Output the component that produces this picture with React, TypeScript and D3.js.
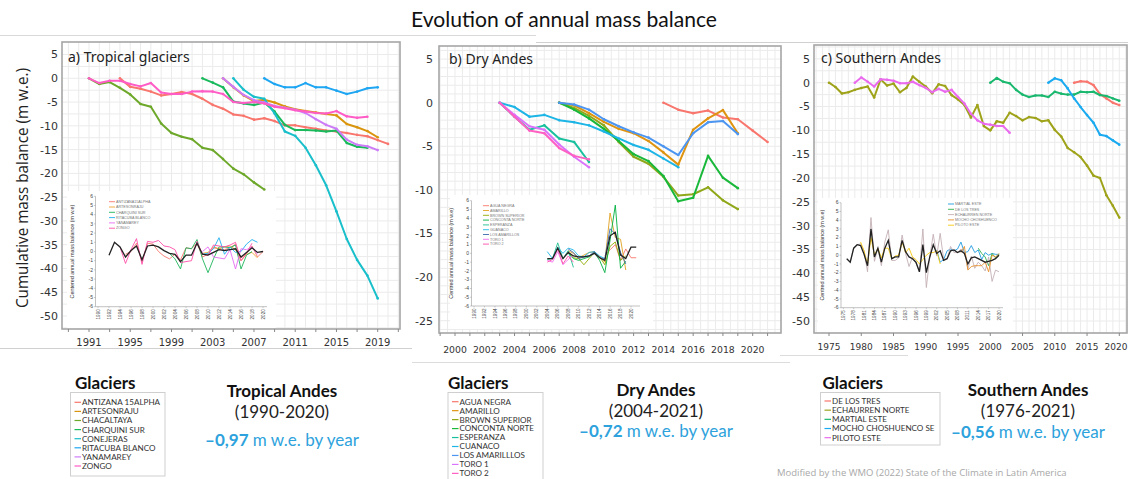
import React from "react";
import * as d3 from "d3";

// ================= DATA =================
// ---- Panel a: Tropical glaciers, cumulative mass balance (m w.e.) ----
const tropNames = ["ANTIZANA 15ALPHA", "ARTESONRAJU", "CHACALTAYA", "CHARQUINI SUR", "CONEJERAS", "RITACUBA BLANCO", "YANAMAREY", "ZONGO"];
const tropColors = ["#F8766D", "#DA950E", "#6DA82A", "#19B95C", "#19BFCA", "#1EA6F2", "#CD7CF8", "#FF5CC6"];
const tropStart = [1994, 2004, 1991, 2002, 2005, 2008, 2004, 1991];
const antizanaCum = [0, -1.8, -2.2, -2.8, -3.6, -3.3, -2.9, -3.3, -4.3, -5.6, -6.4, -7.6, -7.9, -8.7, -8.4, -9.0, -9.9, -9.9, -10.3, -10.6, -11.0, -11.2, -11.5, -11.9, -12.2, -13.0, -13.8];
const artesonrajuCum = [0, -1.9, -3.6, -4.8, -4.5, -5.1, -5.9, -6.5, -6.9, -7.2, -7.5, -7.8, -9.6, -10.3, -11.1, -12.4];
const chacaltayaCum = [0, -1.2, -0.8, -2.0, -3.4, -5.4, -6.0, -9.5, -11.5, -12.3, -12.8, -14.6, -15.1, -17.0, -19.0, -20.2, -21.9, -23.4];
const charquiniCum = [0, -0.9, -1.9, -4.9, -5.3, -5.6, -5.1, -7.0, -9.8, -10.9, -10.9, -11.0, -11.2, -11.0, -13.6, -14.4, -14.6];
const conejerasCum = [0, -2.4, -3.9, -4.3, -7.4, -11.2, -12.1, -14.6, -18.3, -22.5, -28.0, -33.8, -38.2, -41.5, -46.3];
const ritacubaCum = [0, -1.2, -1.9, -1.9, -1.0, -1.9, -1.9, -2.6, -3.3, -2.8, -2.1, -1.9];
const yanamareyCum = [0, -1.8, -3.5, -4.6, -5.1, -5.8, -6.2, -6.6, -7.3, -8.6, -9.8, -10.6, -12.9, -14.0, -14.3, -15.1];
const zongoCum = [0, -1.0, -0.5, -0.5, -1.2, -1.7, -1.0, -3.0, -3.3, -3.3, -2.8, -2.7, -2.8, -3.3, -5.0, -5.2, -5.0, -5.3, -6.0, -6.3, -6.7, -7.0, -7.3, -7.4, -6.9, -8.0, -8.3, -8.1];
const tropCum = [antizanaCum, artesonrajuCum, chacaltayaCum, charquiniCum, conejerasCum, ritacubaCum, yanamareyCum, zongoCum];

// Panel a inset: centered annual mass balance
const tropInsetNames = ["ANTIZANA15ALPHA", "ARTESONRAJU", "CHARQUINI SUR", "RITACUBA BLANCO", "YANAMAREY", "ZONGO"];
const tropInsetColors = ["#F8766D", "#F0A030", "#1DB45A", "#1EB0F0", "#E76BF3", "#FF4FA8"];
const tropInsetStart = [1995, 2009, 2003, 2009, 2009, 1994];
const antizanaAnn = [-0.3, 0.0, 0.9, -1.1, 0.9, 0.8, 0.0, -0.5, -0.8, -0.3, -0.9, 0.4, 0.3, 0.9, -0.6, -0.3, 0.4, 0.3, 0.2, 0.4, 0.8, -0.7, -0.2, 0.6, -0.6, 0.0];
const artesonrajuAnn = [-0.2, -0.1, 0.5, 0.3, 0.5, 0.6, 0.2, -1.0, -0.3, -0.1, -0.7];
const charquiniAnn = [-0.2, -0.8, -1.9, 0.4, 0.3, 1.3, -0.8, -2.3, -0.8, 0.5, 0.5, 0.4, 0.7, -1.9, -0.4, 0.0];
const ritacubaAnn = [-0.3, -0.2, 0.3, 1.5, -0.3, 0.5, -0.1, 0.0, 0.8, 1.3, 1.0];
const yanamareyAnn = [0.0, 0.5, -0.6, -0.7, -0.8, 0.2, -1.9, 0.3, 0.2, 0.5, -0.3];
const zongoAnn = [0.5, -1.3, 0.2, 1.4, -1.4, 1.1, 1.0, 1.2, 0.6, 0.5, 0.2, -1.2, -1.1, -1.0, 1.1, -0.3, -0.4, 0.7, 0.6, 0.5, 0.7, 1.0, -1.0, -0.2, 0.9];
const tropInsetAnn = [antizanaAnn, artesonrajuAnn, charquiniAnn, ritacubaAnn, yanamareyAnn, zongoAnn];
const tropMeanStart = 1992;
const tropMeanAnn = [-0.4, 1.0, 0.5, -0.6, 0.1, 0.6, -0.9, 0.6, 0.7, 0.5, 0.1, -0.2, -0.3, -1.1, -0.4, -0.4, 0.9, -0.3, -0.4, -0.1, 0.2, 0.1, 0.2, 0.3, -0.6, -0.1, 0.4, -0.1, 0.0];

// ---- Panel b: Dry Andes ----
const dryNames = ["AGUA NEGRA", "AMARILLO", "BROWN SUPERIOR", "CONCONTA NORTE", "ESPERANZA", "CUANACO", "LOS AMARILLLOS", "TORO 1", "TORO 2"];
const dryColors = ["#F8766D", "#DE9410", "#8FA81A", "#19B83A", "#19C09E", "#1DB5E6", "#4C95F0", "#DB72FB", "#FF61C3"];
const dryStart = [2014, 2007, 2007, 2007, 2003, 2003, 2007, 2003, 2003];
const aguaNegraCum = [0, -0.8, -1.2, -0.9, -1.7, -1.9, -3.2, -4.5];
const amarilloCum = [0, -0.3, -1.2, -2.2, -3.0, -3.5, -4.4, -5.7, -7.1, -3.1, -1.8, -0.85, -3.5];
const brownCum = [0, -0.6, -1.5, -2.6, -4.5, -6.2, -7.0, -8.5, -10.65, -10.5, -9.7, -11.2, -12.2];
const concontaCum = [0, -0.8, -1.8, -3.0, -4.4, -5.9, -6.7, -8.4, -11.3, -10.9, -6.1, -8.6, -9.8];
const esperanzaCum = [0, -1.6, -3.1, -2.6, -4.1, -4.5, -6.8];
const guanacoCum = [0, -0.5, -1.6, -1.4, -2.0, -2.25, -2.6, -3.3, -4.1, -4.85, -5.4, -6.4, -7.4];
const losAmarillosCum = [0, -0.2, -0.8, -1.9, -2.7, -3.4, -4.0, -5.0, -6.0, -3.5, -2.25, -2.1, -3.6];
const toro1Cum = [0, -1.4, -2.7, -3.1, -4.8, -6.2, -7.4];
const toro2Cum = [0, -1.6, -3.2, -3.5, -5.2, -6.1, -6.5];
const dryCum = [aguaNegraCum, amarilloCum, brownCum, concontaCum, esperanzaCum, guanacoCum, losAmarillosCum, toro1Cum, toro2Cum];

const dryInsetNames = ["AGUA NEGRA", "AMARILLO", "BROWN SUPERIOR", "CONCONTA NORTE", "ESPERANZA", "GUANACO", "LOS AMARILLOS", "TORO 1", "TORO 2"];
const dryInsetColors = ["#F8766D", "#E0A020", "#93AA00", "#00B040", "#20C090", "#20B8E8", "#3C68B0", "#F070F0", "#FF4FA8"];
const dryInsetStart = [2015, 2008, 2008, 2008, 2004, 2004, 2008, 2004, 2004];
const aguaNegraAnn = [-0.3, 0.4, 1.0, -0.8, 0.5, -0.5, -0.5];
const amarilloAnn = [0.3, 0.0, -0.5, -0.2, 0.1, 0.2, -0.4, -1.0, 4.6, 1.8, 1.6, -1.9];
const brownAnn = [0.1, -0.5, -0.6, -1.3, -0.6, 0.1, -0.4, -1.3, 0.8, 1.3, -0.8, -0.3];
const concontaAnn = [0.0, -0.6, -0.8, -0.6, -0.4, 0.1, -0.8, -2.2, 1.5, 5.5, -1.7, -0.9];
const esperanzaAnn = [-0.7, -0.6, 1.2, -0.6, 0.3, -1.6];
const guanacoAnn = [0.2, -0.6, 0.7, 0.0, 0.6, 0.4, -0.3, -0.4, 0.1, 0.2, -0.3, -0.6];
const losAmarillosAnn = [0.5, 0.1, -0.6, -0.4, -0.3, 0.2, -0.5, -0.6, 2.8, 2.2, 0.1, -1.2];
const toro1Ann = [-0.8, -1.0, 0.2, -1.3, -0.7, -0.2];
const toro2Ann = [-1.0, -0.7, 0.5, -1.2, -0.3, -1.0];
const dryInsetAnn = [aguaNegraAnn, amarilloAnn, brownAnn, concontaAnn, esperanzaAnn, guanacoAnn, losAmarillosAnn, toro1Ann, toro2Ann];
const dryMeanStart = 2004;
const dryMeanAnn = [-0.6, -0.6, 0.6, -0.6, 0.1, -0.3, -0.4, -0.4, -0.3, 0.0, -0.5, -0.8, 2.0, 2.4, -0.2, -0.6, 0.7, 0.7];

// ---- Panel c: Southern Andes ----
const southNames = ["DE LOS TRES", "ECHAURREN NORTE", "MARTIAL ESTE", "MOCHO CHOSHUENCO SE", "PILOTO ESTE"];
const southColors = ["#F8766D", "#9FA31A", "#19B86E", "#1AAAF0", "#EA6BEE"];
const southStart = [2013, 1975, 2000, 2009, 1979];
const deLosTresCum = [0, 0.3, 0.2, -0.5, -2.4, -3.3, -4.2, -4.7];
const echaurrenCum = [0, -0.9, -2.25, -2.0, -1.5, -1.1, -0.8, -3.1, 0.7, -0.6, -0.2, -2.0, -1.1, 1.3, 0.2, -0.8, -2.2, -0.35, -0.7, -2.6, -3.5, -4.7, -7.3, -4.7, -9.1, -10.0, -8.1, -8.4, -6.3, -7.0, -7.9, -7.2, -7.4, -8.1, -7.9, -9.9, -11.3, -13.7, -14.6, -15.6, -17.4, -19.5, -20.0, -23.6, -25.8, -28.3];
const martialCum = [0, 1.0, 0.2, -0.1, -1.5, -2.5, -3.0, -2.7, -2.7, -3.0, -1.9, -2.3, -2.5, -2.5, -1.9, -2.0, -1.9, -2.6, -2.8, -3.3, -3.8];
const mochoCum = [0, 0.9, 0.5, -1.2, -3.3, -5.1, -6.8, -8.4, -10.9, -11.2, -12.1, -13.0];
const pilotoCum = [0, 1.1, 0.2, -0.8, 0.7, 0.6, 0.4, -0.1, -0.1, 0.2, -0.5, -1.1, -2.0, -1.3, -1.9, -1.5, -3.0, -4.4, -6.5, -7.9, -8.6, -8.8, -9.1, -9.1, -10.5];
const southCum = [deLosTresCum, echaurrenCum, martialCum, mochoCum, pilotoCum];

const southInsetNames = ["MARTIAL ESTE", "DE LOS TRES", "ECHAURREN NORTE", "MOCHO CHOSHUENCO", "PILOTO ESTE"];
const southInsetColors = ["#1E9BE0", "#2DB04B", "#C4B0B4", "#E8902A", "#F6C90E"];
const southInsetStart = [2002, 2014, 1976, 2009, 1980];
const martialAnn = [0.6, -0.8, -0.5, 0.5, 0.7, 0.5, 0.7, 1.5, 0.3, 0.4, 1.1, 0.3, 0.6, -0.5, 0.3, 0.0, 0.2, 0.1, 0.1];
const deLosTresAnn = [0.8, 0.2, -0.2, -1.2, 0.2, -0.3, 0.1];
const echaurrenAnn = [-0.4, -0.8, 0.8, 1.2, 1.3, 0.5, -1.9, 4.3, -0.7, 0.8, -1.2, 1.5, 2.9, -0.6, -0.6, -0.3, 2.3, 0.2, -1.3, -0.2, -0.9, -1.9, 3.0, -3.7, -0.2, 2.4, -0.1, 2.5, -0.5, -0.4, 1.0, 0.3, 0.3, 0.7, 0.4, -1.6, -0.1, -1.5, -0.8, -1.2, -1.8, -0.2, -3.0, -1.7, -1.9];
const mochoAnn = [0.3, 1.0, -1.7, -1.3, -1.2, -1.2, -1.2, -0.8, -1.9, 0.0, -0.2, 0.2];
const pilotoAnn = [1.5, 0.5, -1.0, 2.0, 0.0, 0.8, -0.3, 0.8, 0.8, -0.4, -0.1, 0.0, 1.5, 0.3, 0.8, -0.2, -0.5, -1.0, -0.5, 0.0, 0.3, 0.3, 0.5, -1.0];
const southInsetAnn = [martialAnn, deLosTresAnn, echaurrenAnn, mochoAnn, pilotoAnn];
const southMeanStart = 1976;
const southMeanAnn = [-0.4, -0.8, 0.8, 1.2, 1.1, 0.1, -1.2, 3.0, -0.2, 0.8, -0.8, 0.8, 1.7, -0.4, -0.2, -0.2, 1.7, 0.4, -0.2, -0.4, -0.8, -1.9, 1.2, -2.0, -0.2, 1.2, 0.2, 0.5, -0.6, -0.4, 0.5, 0.6, 0.3, 0.5, 0.2, -1.0, -0.3, -0.2, -0.4, -0.6, -0.8, -0.7, -0.6, -0.4, 0.0];

// ---- Summary texts ----
const regionTitles = ["Tropical Andes", "Dry Andes", "Southern Andes"];
const regionPeriods = ["(1990-2020)", "(2004-2021)", "(1976-2021)"];
const regionRates = ["–0,97", "–0,72", "–0,56"];

// ================= HELPERS =================
type Pt = [number, number];
const toPts = (start: number, vals: number[]): Pt[] => vals.map((v, i) => [start + i, v] as Pt);
const range = (a: number, b: number, s: number) => {
  const out: number[] = [];
  for (let v = a; v <= b + 1e-9; v += s) out.push(+v.toFixed(3));
  return out;
};

type MainCfg = {
  frame: { x0: number; x1: number; y0: number; y1: number };
  x: d3.ScaleLinear<number, number>;
  y: d3.ScaleLinear<number, number>;
  xLabels: number[];
  xTicks: number[];
  xLabelY: number;
  xLabelSize: number;
  yLabels: number[];
  yLabelX: number;
  gridX: number[];
  gridY: number[];
  title: string;
  titleX: number;
  titleY: number;
  series: { color: string; pts: Pt[] }[];
};

function MainPanel({ c }: { c: MainCfg }) {
  const { frame: f, x, y } = c;
  const line = d3.line<Pt>().x((d) => x(d[0])).y((d) => y(d[1]));
  return (
    <g>
      <rect x={f.x0} y={f.y0} width={f.x1 - f.x0} height={f.y1 - f.y0} fill="#fff" />
      {c.gridX.filter((g) => x(g) > f.x0 + 1 && x(g) < f.x1 - 1).map((g, i) => (
        <line key={"gx" + i} x1={x(g)} x2={x(g)} y1={f.y0} y2={f.y1} stroke="#ebebeb" strokeWidth={1} />
      ))}
      {c.gridY.filter((g) => y(g) > f.y0 + 1 && y(g) < f.y1 - 1).map((g, i) => (
        <line key={"gy" + i} x1={f.x0} x2={f.x1} y1={y(g)} y2={y(g)} stroke="#ebebeb" strokeWidth={1} />
      ))}
      {c.series.map((s, i) => (
        <g key={"s" + i}>
          <path d={line(s.pts) || ""} fill="none" stroke={s.color} strokeWidth={2} strokeLinejoin="round" />
          {s.pts.map((p, j) => (
            <circle key={j} cx={x(p[0])} cy={y(p[1])} r={1.3} fill={s.color} />
          ))}
        </g>
      ))}
      <rect x={f.x0} y={f.y0} width={f.x1 - f.x0} height={f.y1 - f.y0} fill="none" stroke="#a6a6a6" strokeWidth={1.6} />
      {c.xTicks.filter((t) => x(t) > f.x0 && x(t) < f.x1).map((t, i) => (
        <line key={"xt" + i} x1={x(t)} x2={x(t)} y1={f.y1} y2={f.y1 + 3} stroke="#888" strokeWidth={1} />
      ))}
      {c.xLabels.map((t, i) => (
        <text key={"xl" + i} x={Math.min(x(t), 1116)} y={c.xLabelY} textAnchor="middle" fontSize={c.xLabelSize} fill="#333" fontFamily="DejaVu Sans">
          {t}
        </text>
      ))}
      {c.yLabels.map((t, i) => (
        <text key={"yl" + i} x={c.yLabelX} y={y(t)} dy="0.36em" textAnchor="end" fontSize={11} fill="#333" fontFamily="DejaVu Sans">
          {t}
        </text>
      ))}
      <text x={c.titleX} y={c.titleY} fontSize={14} fill="#222" fontFamily="Noto Sans">
        {c.title}
      </text>
    </g>
  );
}

type InsetCfg = {
  box: { x0: number; x1: number; y0: number; y1: number };
  x: d3.ScaleLinear<number, number>;
  y: d3.ScaleLinear<number, number>;
  axisX: number;
  axisRight: number;
  xLabels: number[];
  yLabel: string;
  yLabelX: number;
  series: { color: string; pts: Pt[] }[];
  mean: Pt[];
  legend: { names: string[]; colors: string[]; lx: number; y0: number; step: number };
};

function Inset({ c }: { c: InsetCfg }) {
  const { box: b, x, y } = c;
  const line = d3.line<Pt>().x((d) => x(d[0])).y((d) => y(d[1]));
  const yb = y(-6);
  return (
    <g>
      <rect x={b.x0} y={b.y0} width={b.x1 - b.x0} height={b.y1 - b.y0} fill="#fff" />
      <line x1={c.axisX} x2={c.axisX} y1={y(6)} y2={yb} stroke="#999" strokeWidth={0.6} />
      <line x1={c.axisX} x2={c.axisRight} y1={yb} y2={yb} stroke="#999" strokeWidth={0.6} />
      {range(-6, 6, 1).map((t) => (
        <g key={"iy" + t}>
          <line x1={c.axisX - 1.5} x2={c.axisX} y1={y(t)} y2={y(t)} stroke="#999" strokeWidth={0.5} />
          <text x={c.axisX - 2.5} y={y(t)} dy="0.35em" textAnchor="end" fontSize={5} fill="#444" fontFamily="Liberation Sans">
            {t}
          </text>
        </g>
      ))}
      {c.xLabels.map((t) => (
        <g key={"ix" + t}>
          <line x1={x(t)} x2={x(t)} y1={yb} y2={yb + 1.5} stroke="#999" strokeWidth={0.5} />
          <text transform={`translate(${x(t) + 1.6},${yb + 2.5}) rotate(-90)`} textAnchor="end" fontSize={4.6} fill="#444" fontFamily="Liberation Sans">
            {t}
          </text>
        </g>
      ))}
      <text
        transform={`translate(${c.yLabelX},${(y(6) + yb) / 2}) rotate(-90)`}
        textAnchor="middle"
        fontSize={5.4}
        fill="#333"
        fontFamily="Liberation Sans"
      >
        {c.yLabel}
      </text>
      {c.series.map((s, i) => (
        <path key={"is" + i} d={line(s.pts) || ""} fill="none" stroke={s.color} strokeWidth={0.9} />
      ))}
      <path d={line(c.mean) || ""} fill="none" stroke="#222" strokeWidth={1.3} />
      {c.legend.names.map((n, i) => {
        const yy = c.legend.y0 + i * c.legend.step;
        return (
          <g key={"lg" + i}>
            <line x1={c.legend.lx} x2={c.legend.lx + 6} y1={yy} y2={yy} stroke={c.legend.colors[i]} strokeWidth={0.9} />
            <text x={c.legend.lx + 7} y={yy} dy="0.35em" fontSize={3.7} fill="#777" fontFamily="Liberation Sans">
              {n}
            </text>
          </g>
        );
      })}
    </g>
  );
}

function BottomLegend({ x, box, names, colors, y0, step }: { x: number; box: { x0: number; x1: number; y0: number; y1: number }; names: string[]; colors: string[]; y0: number; step: number }) {
  return (
    <g>
      <text x={x} y={389} fontSize={17} fontWeight="bold" fill="#111" fontFamily="Lato">
        Glaciers
      </text>
      <rect x={box.x0} y={box.y0} width={box.x1 - box.x0} height={box.y1 - box.y0} fill="#fff" stroke="#cfcfcf" strokeWidth={1} />
      {names.map((n, i) => {
        const yy = y0 + i * step;
        return (
          <g key={i}>
            <line x1={box.x0 + 4} x2={box.x0 + 10.5} y1={yy} y2={yy} stroke={colors[i]} strokeWidth={1.2} />
            <text x={box.x0 + 11.5} y={yy} dy="0.36em" fontSize={8.1} fill="#333" fontFamily="Lato">
              {n}
            </text>
          </g>
        );
      })}
    </g>
  );
}

function Summary({ cx, i, y1, y2, y3 }: { cx: number; i: number; y1: number; y2: number; y3: number }) {
  return (
    <g fontFamily="Lato" textAnchor="middle">
      <text x={cx} y={y1} fontSize={17} fontWeight="bold" fill="#111">
        {regionTitles[i]}
      </text>
      <text x={cx} y={y2} fontSize={17} fill="#222">
        {regionPeriods[i]}
      </text>
      <text x={cx} y={y3} fontSize={17} fill="#2DA2DC">
        <tspan fontWeight="bold">{regionRates[i]}</tspan>
        <tspan> m w.e. by year</tspan>
      </text>
    </g>
  );
}

export default function App() {
  // ---- main panels ----
  const xA = d3.scaleLinear().domain([1991, 2019]).range([89, 377.7]);
  const yA = d3.scaleLinear().domain([0, -50]).range([78.3, 316]);
  const xB = d3.scaleLinear().domain([2000, 2020]).range([455, 752.7]);
  const yB = d3.scaleLinear().domain([0, -25]).range([102.7, 320.7]);
  const xC = d3.scaleLinear().domain([1975, 2020]).range([829, 1119.3]);
  const yC = d3.scaleLinear().domain([0, -50]).range([82.7, 321]);

  const cfgA: MainCfg = {
    frame: { x0: 62, x1: 400, y0: 42, y1: 329 },
    x: xA, y: yA,
    xLabels: range(1991, 2019, 4), xTicks: range(1987, 2021, 2), xLabelY: 346, xLabelSize: 10,
    yLabels: range(-50, 5, 5), yLabelX: 58,
    gridX: range(1986, 2022, 1), gridY: range(-55, 10, 2.5),
    title: "a) Tropical glaciers", titleX: 68, titleY: 62,
    series: tropCum.map((v, i) => ({ color: tropColors[i], pts: toPts(tropStart[i], v) })),
  };
  const cfgB: MainCfg = {
    frame: { x0: 439, x1: 781, y0: 46, y1: 333 },
    x: xB, y: yB,
    xLabels: range(2000, 2020, 2), xTicks: range(1999, 2021, 1), xLabelY: 353, xLabelSize: 9.3,
    yLabels: range(-25, 5, 5), yLabelX: 433,
    gridX: range(1998, 2022, 0.5), gridY: range(-27, 8, 1),
    title: "b) Dry Andes", titleX: 449, titleY: 64,
    series: dryCum.map((v, i) => ({ color: dryColors[i], pts: toPts(dryStart[i], v) })),
  };
  const cfgC: MainCfg = {
    frame: { x0: 814, x1: 1127, y0: 45, y1: 333 },
    x: xC, y: yC,
    xLabels: range(1975, 2020, 5), xTicks: range(1975, 2020, 5), xLabelY: 349.5, xLabelSize: 9,
    yLabels: range(-50, 5, 5), yLabelX: 810,
    gridX: range(1970, 2025, 1), gridY: range(-55, 10, 2.5),
    title: "c) Southern Andes", titleX: 821, titleY: 63,
    series: southCum.map((v, i) => ({ color: southColors[i], pts: toPts(southStart[i], v) })),
  };

  // ---- insets ----
  const inA: InsetCfg = {
    box: { x0: 67, x1: 276, y0: 191, y1: 328 },
    x: d3.scaleLinear().domain([1990, 2020]).range([98, 263]),
    y: d3.scaleLinear().domain([6, -6]).range([196.3, 306.7]),
    axisX: 95.5, axisRight: 267,
    xLabels: range(1990, 2020, 2),
    yLabel: "Centered annual mass balance (m w.e)", yLabelX: 74,
    series: tropInsetAnn.map((v, i) => ({ color: tropInsetColors[i], pts: toPts(tropInsetStart[i], v) })),
    mean: toPts(tropMeanStart, tropMeanAnn),
    legend: { names: tropInsetNames, colors: tropInsetColors, lx: 109, y0: 201.7, step: 5.3 },
  };
  const inB: InsetCfg = {
    box: { x0: 450, x1: 653, y0: 195, y1: 329 },
    x: d3.scaleLinear().domain([1990, 2020]).range([474, 631]),
    y: d3.scaleLinear().domain([6, -6]).range([200.7, 306]),
    axisX: 471.5, axisRight: 640,
    xLabels: range(1990, 2020, 2),
    yLabel: "Centred annual mass balance (m w.e)", yLabelX: 452.5,
    series: dryInsetAnn.map((v, i) => ({ color: dryInsetColors[i], pts: toPts(dryInsetStart[i], v) })),
    mean: toPts(dryMeanStart, dryMeanAnn),
    legend: { names: dryInsetNames, colors: dryInsetColors, lx: 483, y0: 205.7, step: 4.8 },
  };
  const inC: InsetCfg = {
    box: { x0: 818, x1: 1013, y0: 198, y1: 332 },
    x: d3.scaleLinear().domain([1975, 2020]).range([843.3, 999]),
    y: d3.scaleLinear().domain([6, -6]).range([202.7, 307.7]),
    axisX: 841, axisRight: 1003,
    xLabels: range(1975, 2020, 3),
    yLabel: "Centred annual mass balance (m w.e)", yLabelX: 823.5,
    series: southInsetAnn.map((v, i) => ({ color: southInsetColors[i], pts: toPts(southInsetStart[i], v) })),
    mean: toPts(southMeanStart, southMeanAnn),
    legend: { names: southInsetNames, colors: southInsetColors, lx: 948, y0: 204, step: 5.3 },
  };

  return (
    <svg width={1128} height={479} viewBox="0 0 1128 479" style={{ position: "absolute", left: 0, top: 0, background: "#fff", display: "block" }}>
      <rect x={0} y={0} width={1128} height={479} fill="#fff" />
      {/* screenshot edge lines */}
      <line x1={0} x2={536} y1={35.5} y2={35.5} stroke="#d9d9d9" strokeWidth={1} />
      <line x1={536} x2={1128} y1={42.5} y2={42.5} stroke="#d0d0d0" strokeWidth={1} />
      <line x1={0} x2={412} y1={348.5} y2={348.5} stroke="#d0d0d0" strokeWidth={1} />
      <line x1={412} x2={790} y1={362.5} y2={362.5} stroke="#dcdcdc" strokeWidth={1} />
      <line x1={780} x2={908} y1={355.5} y2={355.5} stroke="#dcdcdc" strokeWidth={1} />

      <text x={564} y={27} textAnchor="middle" fontSize={21} fill="#111" fontFamily="Liberation Sans Narrow, Lato" textLength={306} lengthAdjust="spacingAndGlyphs">
        Evolution of annual mass balance
      </text>

      <MainPanel c={cfgA} />
      <MainPanel c={cfgB} />
      <MainPanel c={cfgC} />
      <Inset c={inA} />
      <Inset c={inB} />
      <Inset c={inC} />

      <text transform="translate(28,188) rotate(-90)" textAnchor="middle" fontSize={16} fill="#222" fontFamily="Open Sans" textLength={240} lengthAdjust="spacingAndGlyphs">
        Cumulative mass balance (m w.e.)
      </text>

      <BottomLegend x={75} box={{ x0: 70.5, x1: 165, y0: 392.5, y1: 476 }} names={tropNames} colors={tropColors} y0={402.3} step={9.1} />
      <BottomLegend x={448} box={{ x0: 448, x1: 543, y0: 392.5, y1: 486 }} names={dryNames} colors={dryColors} y0={401.7} step={8.96} />
      <BottomLegend x={822.5} box={{ x0: 820.5, x1: 940, y0: 392.5, y1: 445 }} names={southNames} colors={southColors} y0={401} step={9.17} />

      <Summary cx={282} i={0} y1={396.5} y2={418} y3={446} />
      <Summary cx={656} i={1} y1={396} y2={417} y3={437} />
      <Summary cx={1028} i={2} y1={396} y2={417} y3={438} />

      <text x={777} y={476} fontSize={9.5} fill="#a8a8a8" fontFamily="Open Sans">
        Modified by the WMO (2022) State of the Climate in Latin America
      </text>
    </svg>
  );
}
